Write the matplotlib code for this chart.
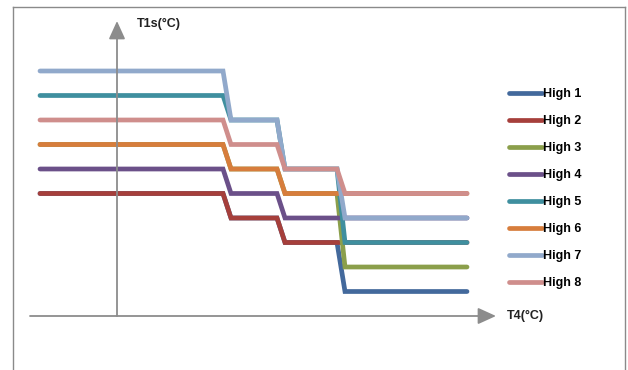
import matplotlib
matplotlib.use("Agg")
import matplotlib.pyplot as plt
from matplotlib.lines import Line2D

plt.rcParams['font.family'] = ['Liberation Sans', 'DejaVu Sans']

# step positions along T4 (schematic units) and level of each series per segment
t4_steps = [-7.7, 10.6, 11.4, 16.0, 16.8, 22.0, 22.8, 35.0]
series_names = ['High 1', 'High 2', 'High 3', 'High 4', 'High 5', 'High 6', 'High 7', 'High 8']
seg_levels = {
    'High 1': [5, 4, 3, 1],
    'High 2': [5, 4, 3, 3],
    'High 3': [7, 6, 5, 2],
    'High 4': [6, 5, 4, 4],
    'High 5': [9, 8, 6, 3],
    'High 6': [7, 6, 5, 5],
    'High 7': [10, 8, 6, 4],
    'High 8': [8, 7, 6, 5],
}
colors = ['#43699c', '#a63f3b', '#8b9f4b', '#6b5089', '#3f8f9f', '#d77d3c', '#91a9cb', '#cf8e8c']

fig = plt.figure(figsize=(6.28, 3.70), dpi=100)
ax = fig.add_axes([0, 0, 1, 1])
# pixel mapping: x_px = 117 + 10*x, y_px(top) = 316 - 24.5*v
ax.set_xlim(-11.7, 51.1)
ax.set_ylim(-54 / 24.5, 316 / 24.5)
ax.axis('off')

lw = 3.4
for name, c in zip(series_names, colors):
    lv = seg_levels[name]
    ys = [lv[0], lv[0], lv[1], lv[1], lv[2], lv[2], lv[3], lv[3]]
    ax.plot(t4_steps, ys, color=c, lw=lw, solid_capstyle='round', solid_joinstyle='miter')

# axes with arrows
axis_col = '#8c8c8c'
arrow = dict(arrowstyle='-|>,head_length=1.1,head_width=0.5', color=axis_col, lw=1.3,
             shrinkA=0, shrinkB=0)
ax.annotate('', xy=(37.9, 0), xytext=(-8.7, 0), arrowprops=arrow)
ax.annotate('', xy=(0, 295 / 24.5), xytext=(0, 0), arrowprops=arrow)
ax.text(2.0, 292 / 24.5, 'T1s(°C)', fontsize=9, fontweight='bold', va='center', ha='left', color='#222222')
ax.text(39.0, 0, 'T4(°C)', fontsize=9, fontweight='bold', va='center', ha='left', color='#222222')

# legend
handles = [Line2D([0], [0], color=c, lw=lw, solid_capstyle='round') for c in colors]
leg = fig.legend(handles, series_names, loc='upper left', bbox_to_anchor=(509 / 628, 1 - 88 / 370),
                 frameon=False, handlelength=2.6, handletextpad=0.1, labelspacing=1.2,
                 prop=dict(size=9, weight='bold'), borderaxespad=0, borderpad=0)

# outer frame
frame_col = '#8a8a8a'
W, H = 628, 370
fig.add_artist(Line2D([13 / W, 13 / W], [0, 1 - 7 / H], color=frame_col, lw=1.0, transform=fig.transFigure))
fig.add_artist(Line2D([13 / W, 625 / W], [1 - 7 / H, 1 - 7 / H], color=frame_col, lw=1.0, transform=fig.transFigure))
fig.add_artist(Line2D([625 / W, 625 / W], [0, 1 - 7 / H], color=frame_col, lw=1.0, transform=fig.transFigure))

fig.savefig('out.png', dpi=100)
